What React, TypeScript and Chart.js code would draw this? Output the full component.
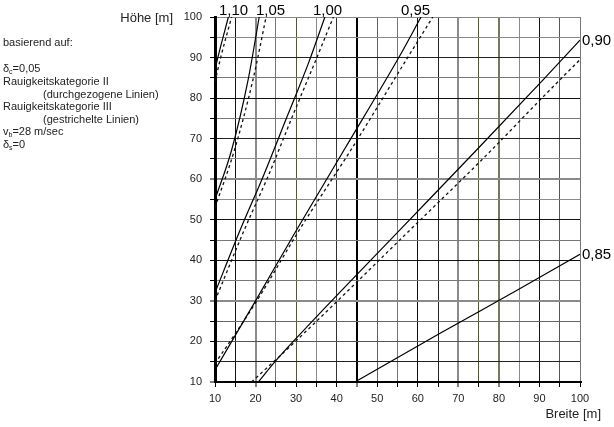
import React, { useEffect, useRef } from "react";
import { Chart, registerables } from "chart.js";

Chart.register(...registerables);

// ---- data ----
const xTickValues = [10, 20, 30, 40, 50, 60, 70, 80, 90, 100];
const yTickValues = [10, 20, 30, 40, 50, 60, 70, 80, 90, 100];

const curveLabels = ["1,10", "1,05", "1,00", "0,95", "0,90", "0,85"];

// Rauigkeitskategorie II (solid)
const s110x = [10, 10.7, 13.3];
const s110y = [87, 90, 100];
const s105x = [10, 14.1, 18.2, 20.9];
const s105y = [55, 67.2, 84.7, 100];
const s100x = [10, 16, 22, 28, 33, 37.1];
const s100y = [32, 47, 61, 76, 88.5, 100];
const s095x = [10, 20, 30, 42, 55.6, 60.8];
const s095y = [13, 30, 47.3, 67.5, 90.5, 100];
const s090x = [20.7, 24.8, 29.3, 55.6, 74.5, 90.9, 100];
const s090y = [10, 15, 20, 47.5, 67.2, 84.5, 94.3];
const s085x = [44.5, 65.5, 84.8, 100];
const s085y = [10, 22, 32.8, 41.5];

// Rauigkeitskategorie III (dashed)
const d110x = [10, 11.4, 14.1];
const d110y = [84, 90, 100];
const d105x = [10, 14.8, 19.4, 22.6];
const d105y = [53, 67.2, 84.7, 100];
const d100x = [10, 17, 23.2, 29.3, 34.5, 39.2];
const d100y = [30, 47, 61, 76, 88.5, 100];
const d095x = [10, 20.3, 30.8, 43.5, 57.5, 63.7];
const d095y = [14.5, 30, 47.5, 67.2, 90, 100];
const d090x = [19, 29.3, 58.1, 77.4, 90.1, 100];
const d090y = [10, 19.5, 47.5, 66.4, 79.5, 89.5];

// ---- grid styles ----
const xGridStyle: Record<number, [string, number]> = {
  10: ["#000", 3], 15: ["#111", 1], 20: ["#8a8a8a", 2], 25: ["#777", 1],
  30: ["#55553a", 1], 35: ["#8a8a8a", 1], 40: ["#333", 1], 45: ["#000", 2],
  50: ["#66663a", 1], 55: ["#777", 1], 60: ["#111", 1], 65: ["#222", 1],
  70: ["#8a8a8a", 2], 75: ["#55553a", 1], 80: ["#77775a", 2], 85: ["#8a8a8a", 1],
  90: ["#111", 1], 95: ["#555", 1], 100: ["#777", 1],
};
const yGridStyle: Record<number, [string, number]> = {
  10: ["#000", 2], 15: ["#222", 1], 20: ["#555", 1], 25: ["#666", 1],
  30: ["#8a8a8a", 2], 35: ["#777", 1], 40: ["#111", 1], 45: ["#777", 1],
  50: ["#111", 1], 55: ["#8a8a8a", 1], 60: ["#8a8a8a", 2], 65: ["#8a8a8a", 1],
  70: ["#222", 1], 75: ["#777", 1], 80: ["#111", 1], 85: ["#777", 1],
  90: ["#222", 1], 95: ["#8a8a8a", 1], 100: ["#888", 1],
};

const FONT = "'Liberation Sans', Arial, sans-serif";

function pts(xs: number[], ys: number[]) {
  return xs.map((x, i) => ({ x, y: ys[i] }));
}

const solidStyle = {
  borderColor: "#000",
  borderWidth: 1.2,
  pointRadius: 0,
  showLine: true,
  cubicInterpolationMode: "monotone" as const,
};
const dashedStyle = {
  borderColor: "#111",
  borderWidth: 1.3,
  borderDash: [3, 3],
  pointRadius: 0,
  showLine: true,
  cubicInterpolationMode: "monotone" as const,
};

const textPlugin = {
  id: "texts",
  afterDraw(chart: any) {
    const ctx = chart.ctx as CanvasRenderingContext2D;
    ctx.save();
    ctx.fillStyle = "#000";
    // curve labels
    ctx.font = `15px ${FONT}`;
    ctx.textBaseline = "alphabetic";
    ctx.textAlign = "left";
    ctx.fillText(curveLabels[0], 219, 15);
    ctx.fillText(curveLabels[1], 256, 15);
    ctx.fillText(curveLabels[2], 313, 15);
    ctx.fillText(curveLabels[3], 401, 15);
    ctx.textBaseline = "middle";
    ctx.fillText(curveLabels[4], 582, 41);
    ctx.fillText(curveLabels[5], 582, 255);

    // axis titles
    ctx.font = `13px ${FONT}`;
    ctx.fillStyle = "#222";
    ctx.textAlign = "right";
    ctx.fillText("Höhe [m]", 173, 18);
    ctx.fillText("Breite [m]", 601, 414);

    // info block
    ctx.textAlign = "left";
    const F = `11px ${FONT}`;
    ctx.font = F;
    const sub = (base: string, s: string, rest: string, x: number, y: number) => {
      ctx.font = F;
      ctx.fillText(base, x, y);
      let w = ctx.measureText(base).width;
      ctx.font = `7px ${FONT}`;
      ctx.fillText(s, x + w, y + 3);
      w += ctx.measureText(s).width;
      ctx.font = F;
      ctx.fillText(rest, x + w, y);
    };
    ctx.fillText("basierend auf:", 3, 43);
    sub("δ", "c", "=0,05", 3, 69);
    ctx.fillText("Rauigkeitskategorie II", 3, 82);
    ctx.fillText("(durchgezogene Linien)", 43, 95);
    ctx.fillText("Rauigkeitskategorie III", 3, 107);
    ctx.fillText("(gestrichelte Linien)", 43, 120);
    sub("v", "b", "=28 m/sec", 3, 132);
    sub("δ", "s", "=0", 3, 145);
    ctx.restore();
  },
};

export default function App() {
  const ref = useRef<HTMLCanvasElement | null>(null);
  useEffect(() => {
    if (!ref.current) return;
    const chart = new Chart(ref.current, {
      type: "scatter",
      data: {
        datasets: [
          { ...solidStyle, data: pts(s110x, s110y) },
          { ...dashedStyle, data: pts(d110x, d110y) },
          { ...solidStyle, data: pts(s105x, s105y) },
          { ...dashedStyle, data: pts(d105x, d105y) },
          { ...solidStyle, data: pts(s100x, s100y) },
          { ...dashedStyle, data: pts(d100x, d100y) },
          { ...solidStyle, data: pts(s095x, s095y) },
          { ...dashedStyle, data: pts(d095x, d095y) },
          { ...solidStyle, data: pts(s090x, s090y) },
          { ...dashedStyle, data: pts(d090x, d090y) },
          { ...solidStyle, data: pts(s085x, s085y) },
        ] as any,
      },
      options: {
        animation: false,
        responsive: false,
        events: [],
        layout: { padding: { left: 0, right: 34, top: 17, bottom: 0 } },
        plugins: { legend: { display: false }, tooltip: { enabled: false } },
        scales: {
          x: {
            type: "linear",
            min: 10,
            max: 100,
            afterFit: (s: any) => { s.height = 45; },
            ticks: {
              stepSize: 5,
              autoSkip: false,
              maxRotation: 0,
              padding: 5,
              color: "#222",
              font: { family: FONT, size: 11 },
              callback: (v: any) => (xTickValues.includes(Number(v)) ? String(v) : ""),
            },
            grid: {
              color: (c: any) => (xGridStyle[c.tick?.value]?.[0] ?? "#888"),
              lineWidth: (c: any) => (xGridStyle[c.tick?.value]?.[1] ?? 1),
              tickColor: "#000",
              tickLength: 5,
              tickWidth: 1,
            },
            border: { display: true, color: "#000", width: 2 },
          },
          y: {
            type: "linear",
            min: 10,
            max: 100,
            afterFit: (s: any) => { s.width = 215; },
            ticks: {
              stepSize: 5,
              autoSkip: false,
              padding: 8,
              color: "#222",
              font: { family: FONT, size: 11 },
              callback: (v: any) => (yTickValues.includes(Number(v)) ? String(v) : ""),
            },
            grid: {
              color: (c: any) => (yGridStyle[c.tick?.value]?.[0] ?? "#888"),
              lineWidth: (c: any) => (yGridStyle[c.tick?.value]?.[1] ?? 1),
              tickColor: "#000",
              tickLength: 5,
              tickWidth: 1,
            },
            border: { display: true, color: "#000", width: 3 },
          },
        },
      },
      plugins: [textPlugin],
    });
    return () => chart.destroy();
  }, []);
  return (
    <div style={{ position: "absolute", left: 0, top: 0, width: 614, height: 427, background: "#fff" }}>
      <canvas ref={ref} width={614} height={427} style={{ width: 614, height: 427 }} />
    </div>
  );
}
